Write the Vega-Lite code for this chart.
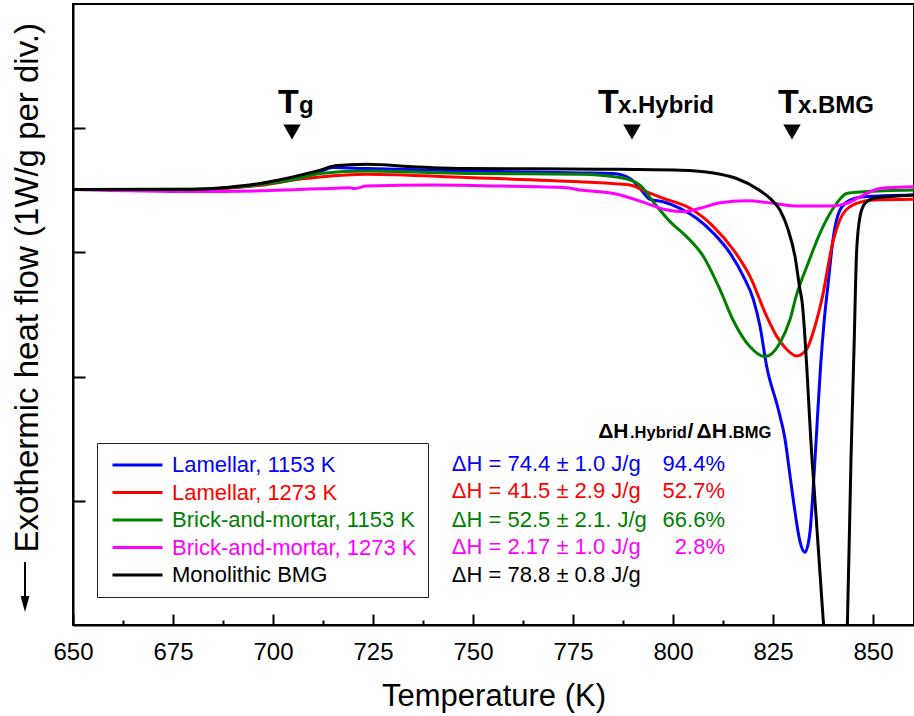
{
  "$schema": "https://vega.github.io/schema/vega-lite/v6.json",
  "width": 841,
  "height": 621,
  "autosize": {"type": "none"},
  "padding": {"left": 73, "top": 4, "right": 0, "bottom": 91},
  "background": "white",
  "config": {
    "font": "Liberation Sans",
    "view": {"stroke": "black", "strokeWidth": 2},
    "axis": {"domainColor": "black", "domainWidth": 2, "tickColor": "black", "tickWidth": 2, "grid": false, "labelColor": "black", "titleColor": "black", "titleFontWeight": "normal", "labelFont": "Liberation Sans", "titleFont": "Liberation Sans"}
  },
  "datasets": {
    "curves": [
      {"series": "Lamellar, 1153 K", "T": 650, "v": 3.507},
      {"series": "Lamellar, 1153 K", "T": 680, "v": 3.507},
      {"series": "Lamellar, 1153 K", "T": 696.75, "v": 3.55},
      {"series": "Lamellar, 1153 K", "T": 705, "v": 3.6},
      {"series": "Lamellar, 1153 K", "T": 711.75, "v": 3.65},
      {"series": "Lamellar, 1153 K", "T": 715, "v": 3.683},
      {"series": "Lamellar, 1153 K", "T": 723.4, "v": 3.675},
      {"series": "Lamellar, 1153 K", "T": 748.4, "v": 3.656},
      {"series": "Lamellar, 1153 K", "T": 776.75, "v": 3.64},
      {"series": "Lamellar, 1153 K", "T": 785, "v": 3.635},
      {"series": "Lamellar, 1153 K", "T": 789.25, "v": 3.595},
      {"series": "Lamellar, 1153 K", "T": 791.75, "v": 3.515},
      {"series": "Lamellar, 1153 K", "T": 794.25, "v": 3.427},
      {"series": "Lamellar, 1153 K", "T": 797.5, "v": 3.408},
      {"series": "Lamellar, 1153 K", "T": 801.75, "v": 3.355},
      {"series": "Lamellar, 1153 K", "T": 805.9, "v": 3.275},
      {"series": "Lamellar, 1153 K", "T": 810.1, "v": 3.155},
      {"series": "Lamellar, 1153 K", "T": 814.25, "v": 2.994},
      {"series": "Lamellar, 1153 K", "T": 817.6, "v": 2.807},
      {"series": "Lamellar, 1153 K", "T": 820.1, "v": 2.62},
      {"series": "Lamellar, 1153 K", "T": 821.75, "v": 2.406},
      {"series": "Lamellar, 1153 K", "T": 823.4, "v": 2.086},
      {"series": "Lamellar, 1153 K", "T": 826.3, "v": 1.739},
      {"series": "Lamellar, 1153 K", "T": 828, "v": 1.498},
      {"series": "Lamellar, 1153 K", "T": 829.25, "v": 1.204},
      {"series": "Lamellar, 1153 K", "T": 830.5, "v": 0.911},
      {"series": "Lamellar, 1153 K", "T": 831.75, "v": 0.671},
      {"series": "Lamellar, 1153 K", "T": 833, "v": 0.585},
      {"series": "Lamellar, 1153 K", "T": 834.25, "v": 0.751},
      {"series": "Lamellar, 1153 K", "T": 835.1, "v": 1.124},
      {"series": "Lamellar, 1153 K", "T": 835.9, "v": 1.552},
      {"series": "Lamellar, 1153 K", "T": 836.9, "v": 2.086},
      {"series": "Lamellar, 1153 K", "T": 837.8, "v": 2.45},
      {"series": "Lamellar, 1153 K", "T": 838.8, "v": 2.754},
      {"series": "Lamellar, 1153 K", "T": 840.1, "v": 3.127},
      {"series": "Lamellar, 1153 K", "T": 841.75, "v": 3.341},
      {"series": "Lamellar, 1153 K", "T": 844.25, "v": 3.421},
      {"series": "Lamellar, 1153 K", "T": 847.6, "v": 3.448},
      {"series": "Lamellar, 1153 K", "T": 860.25, "v": 3.462},

      {"series": "Lamellar, 1273 K", "T": 650, "v": 3.507},
      {"series": "Lamellar, 1273 K", "T": 680, "v": 3.507},
      {"series": "Lamellar, 1273 K", "T": 696.75, "v": 3.54},
      {"series": "Lamellar, 1273 K", "T": 706.75, "v": 3.59},
      {"series": "Lamellar, 1273 K", "T": 711.75, "v": 3.608},
      {"series": "Lamellar, 1273 K", "T": 723.4, "v": 3.63},
      {"series": "Lamellar, 1273 K", "T": 748.4, "v": 3.603},
      {"series": "Lamellar, 1273 K", "T": 776.75, "v": 3.568},
      {"series": "Lamellar, 1273 K", "T": 789.25, "v": 3.542},
      {"series": "Lamellar, 1273 K", "T": 793.4, "v": 3.488},
      {"series": "Lamellar, 1273 K", "T": 797.6, "v": 3.435},
      {"series": "Lamellar, 1273 K", "T": 804.25, "v": 3.355},
      {"series": "Lamellar, 1273 K", "T": 810.1, "v": 3.208},
      {"series": "Lamellar, 1273 K", "T": 815.1, "v": 3.021},
      {"series": "Lamellar, 1273 K", "T": 819.25, "v": 2.807},
      {"series": "Lamellar, 1273 K", "T": 823.4, "v": 2.486},
      {"series": "Lamellar, 1273 K", "T": 825.9, "v": 2.326},
      {"series": "Lamellar, 1273 K", "T": 828.4, "v": 2.22},
      {"series": "Lamellar, 1273 K", "T": 830.9, "v": 2.166},
      {"series": "Lamellar, 1273 K", "T": 833.4, "v": 2.22},
      {"series": "Lamellar, 1273 K", "T": 835.5, "v": 2.406},
      {"series": "Lamellar, 1273 K", "T": 837.2, "v": 2.62},
      {"series": "Lamellar, 1273 K", "T": 840.1, "v": 3.101},
      {"series": "Lamellar, 1273 K", "T": 842.6, "v": 3.315},
      {"series": "Lamellar, 1273 K", "T": 845.9, "v": 3.395},
      {"series": "Lamellar, 1273 K", "T": 850.1, "v": 3.421},
      {"series": "Lamellar, 1273 K", "T": 860.25, "v": 3.427},

      {"series": "Brick-and-mortar, 1153 K", "T": 650, "v": 3.507},
      {"series": "Brick-and-mortar, 1153 K", "T": 680, "v": 3.51},
      {"series": "Brick-and-mortar, 1153 K", "T": 696.75, "v": 3.545},
      {"series": "Brick-and-mortar, 1153 K", "T": 705, "v": 3.585},
      {"series": "Brick-and-mortar, 1153 K", "T": 711.75, "v": 3.635},
      {"series": "Brick-and-mortar, 1153 K", "T": 723.4, "v": 3.655},
      {"series": "Brick-and-mortar, 1153 K", "T": 748.4, "v": 3.635},
      {"series": "Brick-and-mortar, 1153 K", "T": 776.75, "v": 3.63},
      {"series": "Brick-and-mortar, 1153 K", "T": 786.75, "v": 3.603},
      {"series": "Brick-and-mortar, 1153 K", "T": 791.75, "v": 3.542},
      {"series": "Brick-and-mortar, 1153 K", "T": 795.1, "v": 3.405},
      {"series": "Brick-and-mortar, 1153 K", "T": 799.25, "v": 3.248},
      {"series": "Brick-and-mortar, 1153 K", "T": 803.4, "v": 3.127},
      {"series": "Brick-and-mortar, 1153 K", "T": 807.6, "v": 2.967},
      {"series": "Brick-and-mortar, 1153 K", "T": 811.75, "v": 2.7},
      {"series": "Brick-and-mortar, 1153 K", "T": 815.1, "v": 2.45},
      {"series": "Brick-and-mortar, 1153 K", "T": 819.25, "v": 2.24},
      {"series": "Brick-and-mortar, 1153 K", "T": 823, "v": 2.161},
      {"series": "Brick-and-mortar, 1153 K", "T": 826.75, "v": 2.273},
      {"series": "Brick-and-mortar, 1153 K", "T": 829.25, "v": 2.46},
      {"series": "Brick-and-mortar, 1153 K", "T": 830.9, "v": 2.66},
      {"series": "Brick-and-mortar, 1153 K", "T": 833.75, "v": 2.91},
      {"series": "Brick-and-mortar, 1153 K", "T": 836.75, "v": 3.155},
      {"series": "Brick-and-mortar, 1153 K", "T": 840.9, "v": 3.395},
      {"series": "Brick-and-mortar, 1153 K", "T": 843.4, "v": 3.475},
      {"series": "Brick-and-mortar, 1153 K", "T": 847.6, "v": 3.488},
      {"series": "Brick-and-mortar, 1153 K", "T": 860.25, "v": 3.502},

      {"series": "Brick-and-mortar, 1273 K", "T": 650, "v": 3.507},
      {"series": "Brick-and-mortar, 1273 K", "T": 680, "v": 3.49},
      {"series": "Brick-and-mortar, 1273 K", "T": 696.75, "v": 3.496},
      {"series": "Brick-and-mortar, 1273 K", "T": 706.75, "v": 3.507},
      {"series": "Brick-and-mortar, 1273 K", "T": 711.75, "v": 3.512},
      {"series": "Brick-and-mortar, 1273 K", "T": 719.25, "v": 3.52},
      {"series": "Brick-and-mortar, 1273 K", "T": 720.3, "v": 3.514},
      {"series": "Brick-and-mortar, 1273 K", "T": 723.4, "v": 3.534},
      {"series": "Brick-and-mortar, 1273 K", "T": 740, "v": 3.542},
      {"series": "Brick-and-mortar, 1273 K", "T": 756.75, "v": 3.534},
      {"series": "Brick-and-mortar, 1273 K", "T": 773.4, "v": 3.52},
      {"series": "Brick-and-mortar, 1273 K", "T": 776.75, "v": 3.502},
      {"series": "Brick-and-mortar, 1273 K", "T": 781.75, "v": 3.488},
      {"series": "Brick-and-mortar, 1273 K", "T": 785.1, "v": 3.475},
      {"series": "Brick-and-mortar, 1273 K", "T": 793.4, "v": 3.395},
      {"series": "Brick-and-mortar, 1273 K", "T": 797.6, "v": 3.347},
      {"series": "Brick-and-mortar, 1273 K", "T": 802.6, "v": 3.328},
      {"series": "Brick-and-mortar, 1273 K", "T": 806.75, "v": 3.355},
      {"series": "Brick-and-mortar, 1273 K", "T": 811.75, "v": 3.4},
      {"series": "Brick-and-mortar, 1273 K", "T": 818.4, "v": 3.416},
      {"series": "Brick-and-mortar, 1273 K", "T": 825.1, "v": 3.395},
      {"series": "Brick-and-mortar, 1273 K", "T": 830.9, "v": 3.373},
      {"series": "Brick-and-mortar, 1273 K", "T": 839.25, "v": 3.373},
      {"series": "Brick-and-mortar, 1273 K", "T": 843.4, "v": 3.395},
      {"series": "Brick-and-mortar, 1273 K", "T": 847.6, "v": 3.462},
      {"series": "Brick-and-mortar, 1273 K", "T": 851.75, "v": 3.515},
      {"series": "Brick-and-mortar, 1273 K", "T": 860.25, "v": 3.528},

      {"series": "Monolithic BMG", "T": 650, "v": 3.507},
      {"series": "Monolithic BMG", "T": 680, "v": 3.507},
      {"series": "Monolithic BMG", "T": 688.4, "v": 3.523},
      {"series": "Monolithic BMG", "T": 696.75, "v": 3.555},
      {"series": "Monolithic BMG", "T": 705, "v": 3.608},
      {"series": "Monolithic BMG", "T": 711.75, "v": 3.662},
      {"series": "Monolithic BMG", "T": 715, "v": 3.694},
      {"series": "Monolithic BMG", "T": 719, "v": 3.705},
      {"series": "Monolithic BMG", "T": 723.4, "v": 3.71},
      {"series": "Monolithic BMG", "T": 735.9, "v": 3.688},
      {"series": "Monolithic BMG", "T": 748.4, "v": 3.675},
      {"series": "Monolithic BMG", "T": 781.75, "v": 3.67},
      {"series": "Monolithic BMG", "T": 801.75, "v": 3.662},
      {"series": "Monolithic BMG", "T": 810.1, "v": 3.64},
      {"series": "Monolithic BMG", "T": 815.9, "v": 3.595},
      {"series": "Monolithic BMG", "T": 820.9, "v": 3.515},
      {"series": "Monolithic BMG", "T": 824.25, "v": 3.435},
      {"series": "Monolithic BMG", "T": 826.75, "v": 3.341},
      {"series": "Monolithic BMG", "T": 828.8, "v": 3.181},
      {"series": "Monolithic BMG", "T": 830.5, "v": 2.967},
      {"series": "Monolithic BMG", "T": 831.75, "v": 2.7},
      {"series": "Monolithic BMG", "T": 832.2, "v": 2.62},
      {"series": "Monolithic BMG", "T": 834.75, "v": 1.338},
      {"series": "Monolithic BMG", "T": 837.6, "v": 0.016},
      {"series": "Monolithic BMG", "T": 838.4, "v": -0.42},
      {"series": "Monolithic BMG", "T": 840.75, "v": -0.75},
      {"series": "Monolithic BMG", "T": 843.1, "v": -0.42},
      {"series": "Monolithic BMG", "T": 843.6, "v": 0.016},
      {"series": "Monolithic BMG", "T": 844.5, "v": 1.338},
      {"series": "Monolithic BMG", "T": 845.25, "v": 2.22},
      {"series": "Monolithic BMG", "T": 845.9, "v": 3.005},
      {"series": "Monolithic BMG", "T": 846.75, "v": 3.288},
      {"series": "Monolithic BMG", "T": 848, "v": 3.395},
      {"series": "Monolithic BMG", "T": 850.1, "v": 3.435},
      {"series": "Monolithic BMG", "T": 860.25, "v": 3.462}
    ],
    "markers": [
      {"T": 704.75, "v": 3.97},
      {"T": 789.75, "v": 3.97},
      {"T": 829.75, "v": 3.97}
    ],
    "bigT": [
      {"T": 701.25, "v": 4.12, "t": "T"},
      {"T": 781.25, "v": 4.12, "t": "T"},
      {"T": 826.25, "v": 4.12, "t": "T"}
    ],
    "subT": [
      {"T": 706.5, "v": 4.12, "t": "g"},
      {"T": 786.25, "v": 4.12, "t": "x.Hybrid"},
      {"T": 831.25, "v": 4.12, "t": "x.BMG"}
    ],
    "headBig": [
      {"T": 781.3, "v": 1.503, "t": "ΔH"},
      {"T": 803.6, "v": 1.503, "t": "/"},
      {"T": 805.9, "v": 1.503, "t": "ΔH"}
    ],
    "headSmall": [
      {"T": 789.25, "v": 1.503, "t": ".Hybrid"},
      {"T": 813.8, "v": 1.503, "t": ".BMG"}
    ],
    "dh": [
      {"series": "Lamellar, 1153 K", "T": 744.7, "Tp": 813, "v": 1.242, "t": "ΔH = 74.4 ± 1.0 J/g", "pct": "94.4%"},
      {"series": "Lamellar, 1273 K", "T": 744.7, "Tp": 813, "v": 1.02, "t": "ΔH = 41.5 ± 2.9 J/g", "pct": "52.7%"},
      {"series": "Brick-and-mortar, 1153 K", "T": 744.7, "Tp": 813, "v": 0.789, "t": "ΔH = 52.5 ± 2.1. J/g", "pct": "66.6%"},
      {"series": "Brick-and-mortar, 1273 K", "T": 744.7, "Tp": 813, "v": 0.572, "t": "ΔH = 2.17 ± 1.0 J/g", "pct": "2.8%"},
      {"series": "Monolithic BMG", "T": 744.7, "Tp": 813, "v": 0.349, "t": "ΔH = 78.8 ± 0.8 J/g", "pct": ""}
    ],
    "arrow": [
      {"T": 638, "v": 0.507, "v2": 0.17}
    ]
  },
  "encoding": {
    "x": {
      "field": "T", "type": "quantitative",
      "scale": {"domain": [650, 860.25], "nice": false, "zero": false},
      "axis": {
        "values": [650, 662.5, 675, 687.5, 700, 712.5, 725, 737.5, 750, 762.5, 775, 787.5, 800, 812.5, 825, 837.5, 850],
        "tickSize": {"condition": {"test": "datum.value % 25 === 0", "value": -11}, "value": -5},
        "labelExpr": "datum.value % 25 === 0 ? datum.label : ''",
        "labelFontSize": 24,
        "labelPadding": 26,
        "labelFlush": false,
        "labelOverlap": false,
        "title": "Temperature (K)",
        "titleFontSize": 31,
        "titleBaseline": "alphabetic",
        "titleY": 80
      }
    },
    "y": {
      "field": "v", "type": "quantitative",
      "scale": {"domain": [0, 5], "nice": false, "zero": false},
      "axis": {
        "values": [1, 2, 3, 4],
        "labels": false,
        "tickSize": -12,
        "title": "Exothermic heat flow (1W/g per div.)",
        "titleFontSize": 33,
        "titleAngle": -90,
        "titleAlign": "left",
        "titleBaseline": "alphabetic",
        "titleX": -36,
        "titleY": 548
      }
    }
  },
  "layer": [
    {
      "data": {"name": "curves"},
      "mark": {"type": "line", "strokeWidth": 3, "interpolate": "monotone", "clip": true},
      "encoding": {
        "color": {
          "field": "series", "type": "nominal",
          "scale": {
            "domain": ["Lamellar, 1153 K", "Lamellar, 1273 K", "Brick-and-mortar, 1153 K", "Brick-and-mortar, 1273 K", "Monolithic BMG"],
            "range": ["#0000ff", "#ff0000", "#008000", "#ff00ff", "#000000"]
          },
          "legend": {
            "orient": "none", "legendX": 24, "legendY": 439,
            "title": null,
            "symbolType": "stroke", "symbolStrokeWidth": 3, "symbolSize": 2500,
            "symbolOffset": 3,
            "clipHeight": 22,
            "labelFontSize": 22, "labelFont": "Liberation Sans", "labelOffset": 8, "labelLimit": 400,
            "rowPadding": 5.5, "padding": 11,
            "strokeColor": "#222222", "fillColor": "white",
            "encode": {"labels": {"update": {"fill": {"scale": "color", "field": "value"}}}}
          }
        },
        "order": {"field": "T", "type": "quantitative"}
      }
    },
    {
      "data": {"name": "markers"},
      "mark": {"type": "point", "shape": "triangle-down", "filled": true, "color": "black", "opacity": 1, "size": 300}
    },
    {
      "data": {"name": "arrow"},
      "mark": {"type": "rule", "color": "black", "strokeWidth": 2, "clip": false},
      "encoding": {"y2": {"field": "v2"}}
    },
    {
      "data": {"name": "arrow"},
      "mark": {"type": "point", "shape": "M-0.55,-1L0.55,-1L0,1Z", "filled": true, "color": "black", "opacity": 1, "size": 256, "clip": false},
      "encoding": {"y": {"field": "v2", "type": "quantitative"}}
    },
    {
      "data": {"name": "bigT"},
      "mark": {"type": "text", "align": "left", "baseline": "alphabetic", "fontSize": 34, "fontWeight": "bold", "color": "black"},
      "encoding": {"text": {"field": "t"}}
    },
    {
      "data": {"name": "subT"},
      "mark": {"type": "text", "align": "left", "baseline": "alphabetic", "fontSize": 24, "fontWeight": "bold", "color": "black"},
      "encoding": {"text": {"field": "t"}}
    },
    {
      "data": {"name": "headBig"},
      "mark": {"type": "text", "align": "left", "baseline": "alphabetic", "fontSize": 21, "fontWeight": "bold", "color": "black"},
      "encoding": {"text": {"field": "t"}}
    },
    {
      "data": {"name": "headSmall"},
      "mark": {"type": "text", "align": "left", "baseline": "alphabetic", "fontSize": 16.5, "fontWeight": "bold", "color": "black"},
      "encoding": {"text": {"field": "t"}}
    },
    {
      "data": {"name": "dh"},
      "mark": {"type": "text", "align": "left", "baseline": "alphabetic", "fontSize": 22},
      "encoding": {
        "text": {"field": "t"},
        "color": {"field": "series", "type": "nominal", "legend": null}
      }
    },
    {
      "data": {"name": "dh"},
      "mark": {"type": "text", "align": "right", "baseline": "alphabetic", "fontSize": 22},
      "encoding": {
        "x": {"field": "Tp", "type": "quantitative"},
        "text": {"field": "pct"},
        "color": {"field": "series", "type": "nominal", "legend": null}
      }
    }
  ]
}
